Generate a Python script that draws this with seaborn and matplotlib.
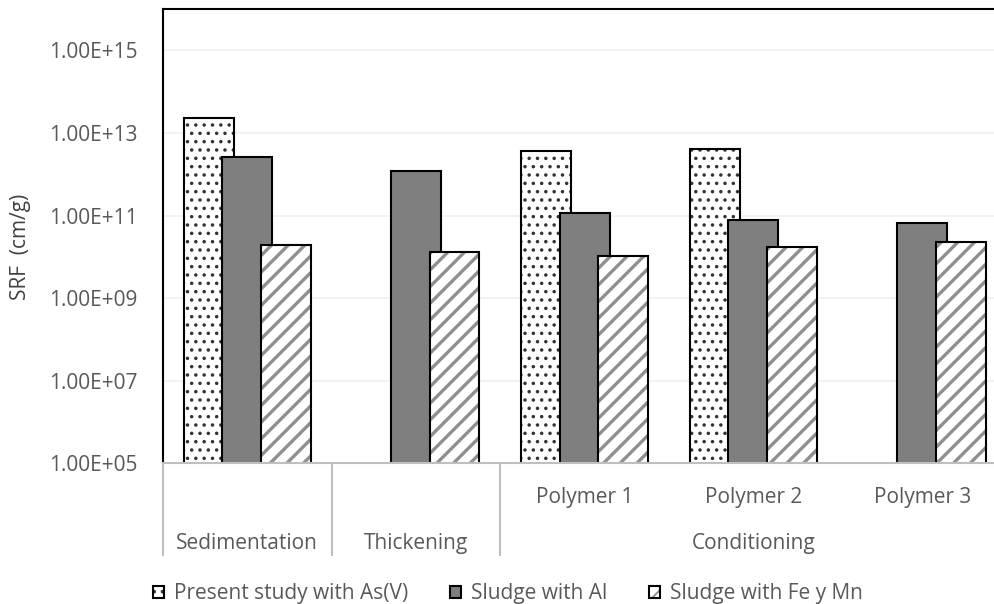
import matplotlib
matplotlib.use("Agg")
import matplotlib.pyplot as plt
from matplotlib.patches import Rectangle, Patch
from matplotlib.ticker import FuncFormatter, NullLocator
import pandas as pd
import seaborn as sns

# ---- data -------------------------------------------------------------
stages = ["Sedimentation", "Thickening", "Polymer 1", "Polymer 2", "Polymer 3"]
stage_groups = ["Sedimentation", "Thickening", "Conditioning", "Conditioning", "Conditioning"]
series = ["Present study with As(V)", "Sludge with Al", "Sludge with Fe y Mn"]

present_as = [2.30e13, None, 3.66e12, 4.19e12, None]
sludge_al = [2.62e12, 1.20e12, 1.16e11, 7.7e10, 6.6e10]
sludge_fe = [1.91e10, 1.32e10, 1.05e10, 1.71e10, 2.22e10]

y_ticks = [1e5, 1e7, 1e9, 1e11, 1e13, 1e15]

# ---- styling ------------------------------------------------------------
W, H = 994, 604
TXT = "#595959"
AXIS_GREY = "#bfbfbf"
FS = 15
fills = ["white", "#7f7f7f", "white"]
hatches = ["..", None, "//"]
hatch_colors = ["#333333", "#7f7f7f", "#8f8f8f"]
hatch_lws = [1.3, 1.0, 2.4]
BAR_W = 0.296

sns.set_theme(style="white")
plt.rcParams["font.family"] = ["Open Sans", "DejaVu Sans"]
plt.rcParams["hatch.linewidth"] = 1.4

rows = []
for name, vals in zip(series, [present_as, sludge_al, sludge_fe]):
    for stage, v in zip(stages, vals):
        if v is not None:
            rows.append({"stage": stage, "series": name, "srf": v})
df = pd.DataFrame(rows)

fig = plt.figure(figsize=(W / 100, H / 100), dpi=100)
ax_left, ax_top, ax_bottom, ax_right = 163, 9, 463.3, 1006.5
ax = fig.add_axes([ax_left / W, (H - ax_bottom) / H,
                   (ax_right - ax_left) / W, (ax_bottom - ax_top) / H])

sns.barplot(data=df, x="stage", y="srf", hue="series", order=stages,
            hue_order=series, width=0.684, dodge=True, log_scale=True,
            errorbar=None, legend=False, saturation=1, ax=ax)


def style_patch(p, i):
    p.set_facecolor(fills[i])
    p.set_edgecolor(hatch_colors[i])
    p.set_linewidth(0)
    if hatches[i]:
        p.set_hatch(hatches[i])
        if hasattr(p, "set_hatch_linewidth"):
            p.set_hatch_linewidth(hatch_lws[i])


for i, cont in enumerate(ax.containers):
    for bar in cont:
        cx = bar.get_x() + bar.get_width() / 2
        bar.set_x(cx - BAR_W / 2)
        bar.set_width(BAR_W)
        style_patch(bar, i)
        bar.set_zorder(2 + i * 0.1)
        outline = Rectangle(bar.get_xy(), bar.get_width(), bar.get_height(),
                            fill=False, edgecolor="black", linewidth=1.5,
                            zorder=2.05 + i * 0.1)
        ax.add_patch(outline)

# ---- axes -----------------------------------------------------------------
ax.set_yscale("log")
ax.set_ylim(1e5, 1e16)
ax.set_xlim(-0.5, len(stages) - 0.5)
ax.set_yticks(y_ticks)
ax.yaxis.set_minor_locator(NullLocator())
ax.yaxis.set_major_formatter(FuncFormatter(lambda v, _: f"{v:.2E}"))
ax.tick_params(axis="y", length=0, pad=18.5, labelsize=FS, labelcolor=TXT)
ax.set_xticks([])
ax.set_xlabel("")
ax.set_ylabel("")
ax.yaxis.grid(True, color="#efefef", linewidth=1.1)
ax.xaxis.grid(False)
ax.set_axisbelow(True)

for side in ["left", "top", "right"]:
    ax.spines[side].set_color("black")
    ax.spines[side].set_linewidth(1.5)
ax.spines["bottom"].set_color(AXIS_GREY)
ax.spines["bottom"].set_linewidth(1.5)
ax.spines["bottom"].set_zorder(5)

ax_h_px = ax_bottom - ax_top


def fy(py):
    return (ax_bottom - py) / ax_h_px


trans = ax.get_xaxis_transform()

# inner category labels (only inside multi-stage groups)
for i, (stage, grp) in enumerate(zip(stages, stage_groups)):
    if stage_groups.count(grp) > 1:
        ax.text(i, fy(503), stage, transform=trans, ha="center",
                va="baseline", fontsize=FS, color=TXT, clip_on=False)

# outer group labels and separators
groups = list(dict.fromkeys(stage_groups))
for grp in groups:
    idx = [i for i, g in enumerate(stage_groups) if g == grp]
    ax.text(sum(idx) / len(idx), fy(549), grp, transform=trans, ha="center",
            va="baseline", fontsize=FS, color=TXT, clip_on=False)
    left_edge = idx[0] - 0.5
    ax.plot([left_edge, left_edge], [0, fy(556)], transform=trans,
            color=AXIS_GREY, linewidth=1.5, clip_on=False, zorder=5,
            solid_capstyle="butt")

fig.text(21 / W, 1 - 247 / H, "SRF  (cm/g)", rotation=90, ha="center",
         va="center", fontsize=FS, color="#404040")

# ---- legend -------------------------------------------------------------
handles = []
for i in range(len(series)):
    hp = Patch(facecolor=fills[i], hatch=hatches[i], edgecolor=hatch_colors[i],
               linewidth=0)
    if hatches[i] and hasattr(hp, "set_hatch_linewidth"):
        hp.set_hatch_linewidth(hatch_lws[i])
    op = Patch(facecolor="none", edgecolor="black", linewidth=1.5)
    handles.append((hp, op))

fig.legend(handles, series, loc="center", bbox_to_anchor=(508 / W, 1 - 594 / H),
           ncol=3, frameon=False, fontsize=FS, labelcolor=TXT,
           handlelength=0.53, handleheight=0.53, handletextpad=0.48,
           columnspacing=2.0, borderpad=0)

fig.savefig("out.png", dpi=100)
